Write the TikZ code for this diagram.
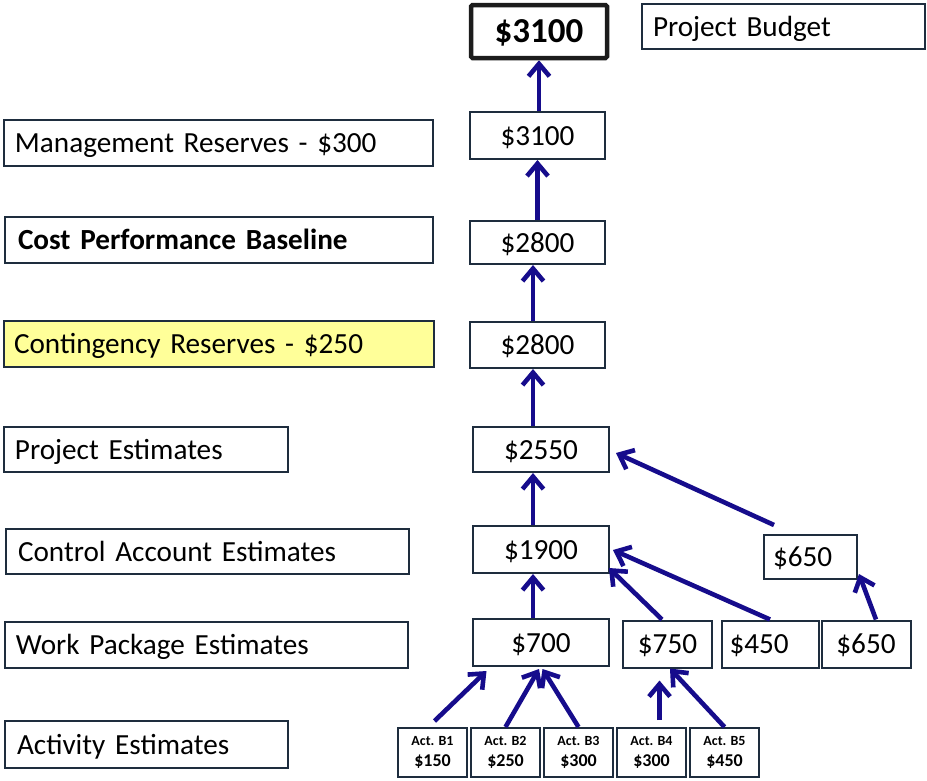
\documentclass[tikz,border=0pt]{standalone}
\usepackage{fontspec}
\setmainfont{Carlito}
\usetikzlibrary{arrows.meta,calc}
\definecolor{arrowblue}{RGB}{22,12,140}
\definecolor{boxline}{RGB}{30,45,62}
\definecolor{hlyellow}{RGB}{255,255,153}
\newcommand\mainsz{\fontsize{29.2}{34}\selectfont}
\begin{document}
\begin{tikzpicture}[x=1pt,y=-1pt,
  box/.style 2 args={draw=boxline, line width=2pt, minimum width=#1, minimum height=#2, inner sep=0pt, font=\mainsz, text height=19pt, text depth=0pt},
  lbox/.style 2 args={box={#1}{#2}, align=left},
  actbox/.style={draw=boxline, line width=2pt, minimum width=69pt, minimum height=49pt, inner sep=0pt, align=center, font=\fontsize{18}{20.5}\selectfont\bfseries},
  arr/.style={draw=arrowblue, line width=4.6pt, -{Straight Barb[length=12.5pt,width=21pt]}}
]
\useasboundingbox (0,0) rectangle (927,780);
\fill[white] (0,0) rectangle (927,780);

% left column labels
\node[lbox={429pt}{46pt}, text width=407pt] (mr) at (218.5,143) {Management Reserves - \$300};
\node[lbox={428pt}{46pt}, text width=402pt, font=\mainsz\bfseries] (cpb) at (219,240) {Cost Performance Baseline};
\node[lbox={430pt}{46pt}, text width=410pt, fill=hlyellow] (cr) at (219,344) {Contingency Reserves - \$250};
\node[lbox={284pt}{45pt}, text width=262pt] (pe) at (146,449.5) {Project Estimates};
\node[lbox={403pt}{45pt}, text width=379pt] (cae) at (207.5,551.5) {Control Account Estimates};
\node[lbox={403pt}{46pt}, text width=381pt] (wpe) at (206.5,645) {Work Package Estimates};
\node[lbox={283pt}{47pt}, text width=259pt] (ae) at (146.5,744.5) {Activity Estimates};

% value boxes
\node[draw={rgb,255:red,28;green,28;blue,28}, line width=4.5pt, rounded corners=1.5pt, minimum width=136pt, minimum height=53pt, inner sep=0pt, font=\fontsize{35}{40}\selectfont\bfseries, text height=22.5pt, text depth=0pt] (top) at (539,31.5) {\$3100};
\node[lbox={283pt}{45pt}, text width=261pt] (pb) at (783.5,26.5) {Project Budget};
\node[box={135pt}{47pt}] (v3100) at (537.5,135.5) {\$3100};
\node[box={135pt}{43pt}] (v2800a) at (537.5,242.5) {\$2800};
\node[box={135pt}{46pt}] (v2800b) at (537.5,345) {\$2800};
\node[box={136pt}{45pt}] (v2550) at (541,449.5) {\$2550};
\node[box={136pt}{47pt}] (v1900) at (541,549.5) {\$1900};
\node[box={93pt}{44pt}, text width=75pt, align=left] (v650u) at (810.5,557) {\$650};
\node[box={136pt}{47pt}] (v700) at (541,642.5) {\$700};
\node[box={89pt}{47pt}] (v750) at (667.5,644) {\$750};
\node[box={97pt}{47pt}, text width=81pt, align=left] (v450) at (770,644) {\$450};
\node[box={89pt}{47pt}] (v650) at (866,644) {\$650};

% activity boxes
\foreach \n/\cx/\amt in {1/432.5/150, 2/505.5/250, 3/578.5/300, 4/651.5/300, 5/724.5/450}{
  \node[actbox] (b\n) at (\cx,752.5) {{\fontsize{14}{16}\selectfont Act. B\n}\\\$\amt};
}

% vertical arrows
\draw[arr] ([xshift=1.5pt]v3100.north) -- ([xshift=0pt]top.south);
\draw[arr] (v2800a.north) -- (v3100.south);
\draw[arr] ([xshift=-4.5pt]v2800b.north) -- ([xshift=-4.5pt]v2800a.south);
\draw[arr] ([xshift=-8pt]v2550.north) -- ([xshift=-4.5pt]v2800b.south);
\draw[arr] ([xshift=-8pt]v1900.north) -- ([xshift=-8pt]v2550.south);
\draw[arr] ([xshift=-8pt]v700.north) -- ([xshift=-8pt]v1900.south);

% diagonal arrows
\draw[arr] ($(v650u.north west)+(11,-9)$) -- ($(v2550.east)+(6,3.5)$);
\draw[arr] (v450.north) -- ($(v1900.east)+(3,0.5)$);
\draw[arr] ($(v750.north)+(-5.5,0)$) -- ($(v1900.south east)+(-1,-6)$);
\draw[arr] ($(v650.north)+(10,0)$) -- ($(v650u.south east)+(1,-6)$);

% activity arrows
\draw[arr] ($(b1.north)+(2,-6)$) -- ($(v700.south west)+(14.5,4)$);
\draw[arr] (b2.north) -- ($(v700.south)+(-2,2)$);
\draw[arr] (b3.north) -- ($(v700.south)+(1.5,2)$);
\draw[arr] ($(b4.north)+(8,-7)$) -- ($(v750.south)+(-8,12)$);
\draw[arr] (b5.north) -- ($(v750.south)+(2.5,0)$);
\end{tikzpicture}
\end{document}
